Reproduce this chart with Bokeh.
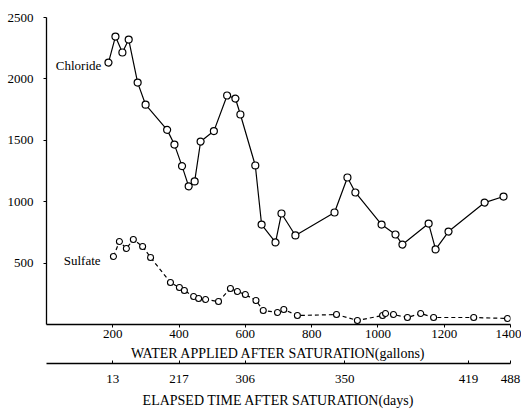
from bokeh.plotting import figure
from bokeh.models import LinearAxis, FixedTicker, Range1d, Label
from bokeh.embed import file_html
from bokeh.resources import INLINE

# Chloride series (gallons, mg/L)
cl_x = [187, 208, 229, 248, 275, 299, 364, 386, 409, 429, 447, 465, 505, 545, 570, 585,
        630, 649, 691, 709, 751, 869, 908, 932, 1011, 1053, 1074, 1153, 1174, 1213, 1322, 1379]
cl_y = [2133, 2345, 2215, 2320, 1970, 1790, 1585, 1465, 1290, 1125, 1165, 1490, 1575, 1865, 1840, 1710,
        1295, 814, 668, 904, 725, 912, 1197, 1075, 814, 733, 651, 822, 611, 757, 993, 1042]

# Sulfate series
so_x = [202, 220, 241, 262, 290, 314, 374, 401, 416, 444, 459, 480, 519, 555, 576, 600,
        632, 654, 697, 716, 757, 875, 938, 1014, 1023, 1047, 1089, 1129, 1168, 1289, 1391]
so_y = [554, 676, 619, 692, 635, 546, 342, 301, 277, 228, 212, 204, 187, 293, 269, 244,
        195, 114, 98, 122, 73, 81, 33, 73, 90, 81, 57, 90, 57, 57, 49]

gallon_ticks = [200, 400, 600, 800, 1000, 1200, 1400]
y_ticks = [500, 1000, 1500, 2000, 2500]
day_tick_pos = [200, 400, 600, 900, 1273, 1400]
day_labels = ["13", "217", "306", "350", "419", "488"]

FONT = "Liberation Serif"

p = figure(width=521, height=411, output_backend="svg", toolbar_location=None,
           x_range=Range1d(0, 1400), y_range=Range1d(0, 2500),
           min_border_left=46, min_border_right=11, min_border_top=17, min_border_bottom=87)
p.outline_line_color = None
p.grid.grid_line_color = None
p.background_fill_color = "white"

p.line(cl_x, cl_y, line_color="black", line_width=1.2)
p.scatter(cl_x, cl_y, marker="circle", size=7, fill_color="white", line_color="black", line_width=1.2)
p.line(so_x, so_y, line_color="black", line_width=1.2, line_dash="4 3")
p.scatter(so_x, so_y, marker="circle", size=6, fill_color="white", line_color="black", line_width=1.1)

p.add_layout(Label(x=28, y=2110, text="Chloride", text_font=FONT, text_font_size="13px",
                   text_color="black", text_baseline="middle", text_align="left"))
p.add_layout(Label(x=52, y=521, text="Sulfate", text_font=FONT, text_font_size="13px",
                   text_color="black", text_baseline="middle", text_align="left"))

xa = p.xaxis[0]
xa.ticker = FixedTicker(ticks=gallon_ticks)
xa.axis_label = "WATER APPLIED AFTER SATURATION(gallons)"
xa.major_tick_in = 0
xa.major_tick_out = 3
xa.minor_tick_out = 0
xa.minor_tick_in = 0
xa.major_label_standoff = 2
xa.axis_label_standoff = 5

ya = p.yaxis[0]
ya.ticker = FixedTicker(ticks=y_ticks)
ya.major_tick_in = 0
ya.major_tick_out = 3
ya.minor_tick_out = 0
ya.minor_tick_in = 0
ya.major_label_standoff = 10

# empty spacer axis to leave a gap before the second scale
spacer = LinearAxis(ticker=FixedTicker(ticks=[]), axis_line_color=None,
                    major_tick_out=6, major_tick_in=0, minor_tick_out=0, minor_tick_in=0,
                    major_label_standoff=0, major_tick_line_color=None)
p.add_layout(spacer, "below")

xa2 = LinearAxis(ticker=FixedTicker(ticks=day_tick_pos),
                 major_label_overrides={t: l for t, l in zip(day_tick_pos, day_labels)},
                 axis_label="ELAPSED TIME AFTER SATURATION(days)")
xa2.major_tick_in = 3
xa2.major_tick_out = 0
xa2.minor_tick_out = 0
xa2.minor_tick_in = 0
xa2.major_label_standoff = 11
xa2.axis_label_standoff = 7
p.add_layout(xa2, "below")

for ax in (xa, ya, xa2):
    ax.axis_line_color = "black"
    ax.axis_line_width = 1.3
    ax.major_tick_line_color = "black"
    ax.major_label_text_font = FONT
    ax.major_label_text_font_size = "13px"
    ax.major_label_text_color = "black"
    ax.axis_label_text_font = FONT
    ax.axis_label_text_font_size = "14px"
    ax.axis_label_text_font_style = "normal"
    ax.axis_label_text_color = "black"

open("out.html", "w").write(file_html(p, INLINE))
